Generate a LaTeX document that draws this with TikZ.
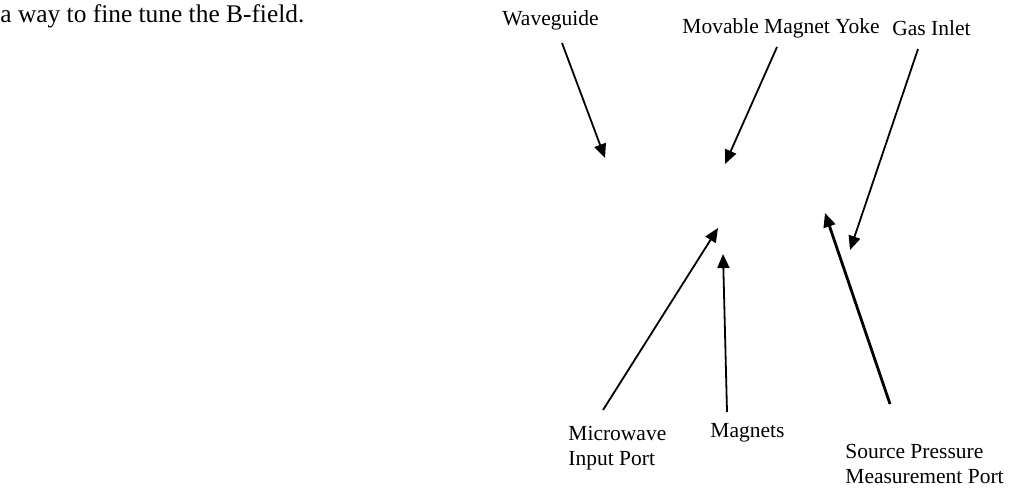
\documentclass[tikz,border=0pt]{standalone}
\usepackage{fontspec}
\setmainfont{Liberation Serif}
\usepackage{tikz}
\usetikzlibrary{arrows.meta, positioning}
\tikzset{
    partlabel/.style={inner sep=0pt, anchor=base west, align=left, font=\fontsize{10.75}{12.5}\selectfont},
    partarrow/.style={-{Triangle[length=7pt, width=6pt]}, line width=#1},
    partarrow/.default=0.9pt,
    bodytext/.style={inner sep=0pt, anchor=base west, font=\fontsize{12.7}{15}\selectfont}
}
\definecolor{inkblack}{RGB}{0,0,0}

\begin{document}
\begin{tikzpicture}[x=0.5pt, y=-0.5pt, inkblack]
\useasboundingbox (0,0) rectangle (1015,488);

\node[bodytext] (para) at (0,22) {a way to fine tune the B-field.};

% labels (two-line ones sit on the baseline of their last line)
\node[partlabel] (guide) at (502,25) {Waveguide};
\node[partlabel] (yoke) at (682,33) {Movable Magnet Yoke};
\node[partlabel] (inlet) at (892,35) {Gas Inlet};
\node[partlabel] (mwport) at (568,465) {Microwave\\Input Port};
\node[partlabel] (magnets) at (710,437) {Magnets};
\node[partlabel] (pport) at (845,483) {Source Pressure\\Measurement Port};

% arrow ends
\coordinate (guide-tail) at (562,43);
\coordinate (guide-tip) at (605,158);
\coordinate (yoke-tail) at (777,47);
\coordinate (yoke-tip) at (725,164);
\coordinate (inlet-tail) at (918,49);
\coordinate (inlet-tip) at (850,250);
\coordinate (mwport-tail) at (603,410);
\coordinate (mwport-tip) at (718,228);
\coordinate (magnets-tail) at (727,412);
\coordinate (magnets-tip) at (723,254);
\coordinate (pport-tail) at (890,404);
\coordinate (pport-tip) at (825,213);

\draw[partarrow] (guide-tail) -- (guide-tip);
\draw[partarrow] (yoke-tail) -- (yoke-tip);
\draw[partarrow] (inlet-tail) -- (inlet-tip);
\draw[partarrow] (mwport-tail) -- (mwport-tip);
\draw[partarrow] (magnets-tail) -- (magnets-tip);
\draw[partarrow=1.4pt] (pport-tail) -- (pport-tip);

\end{tikzpicture}
\end{document}
